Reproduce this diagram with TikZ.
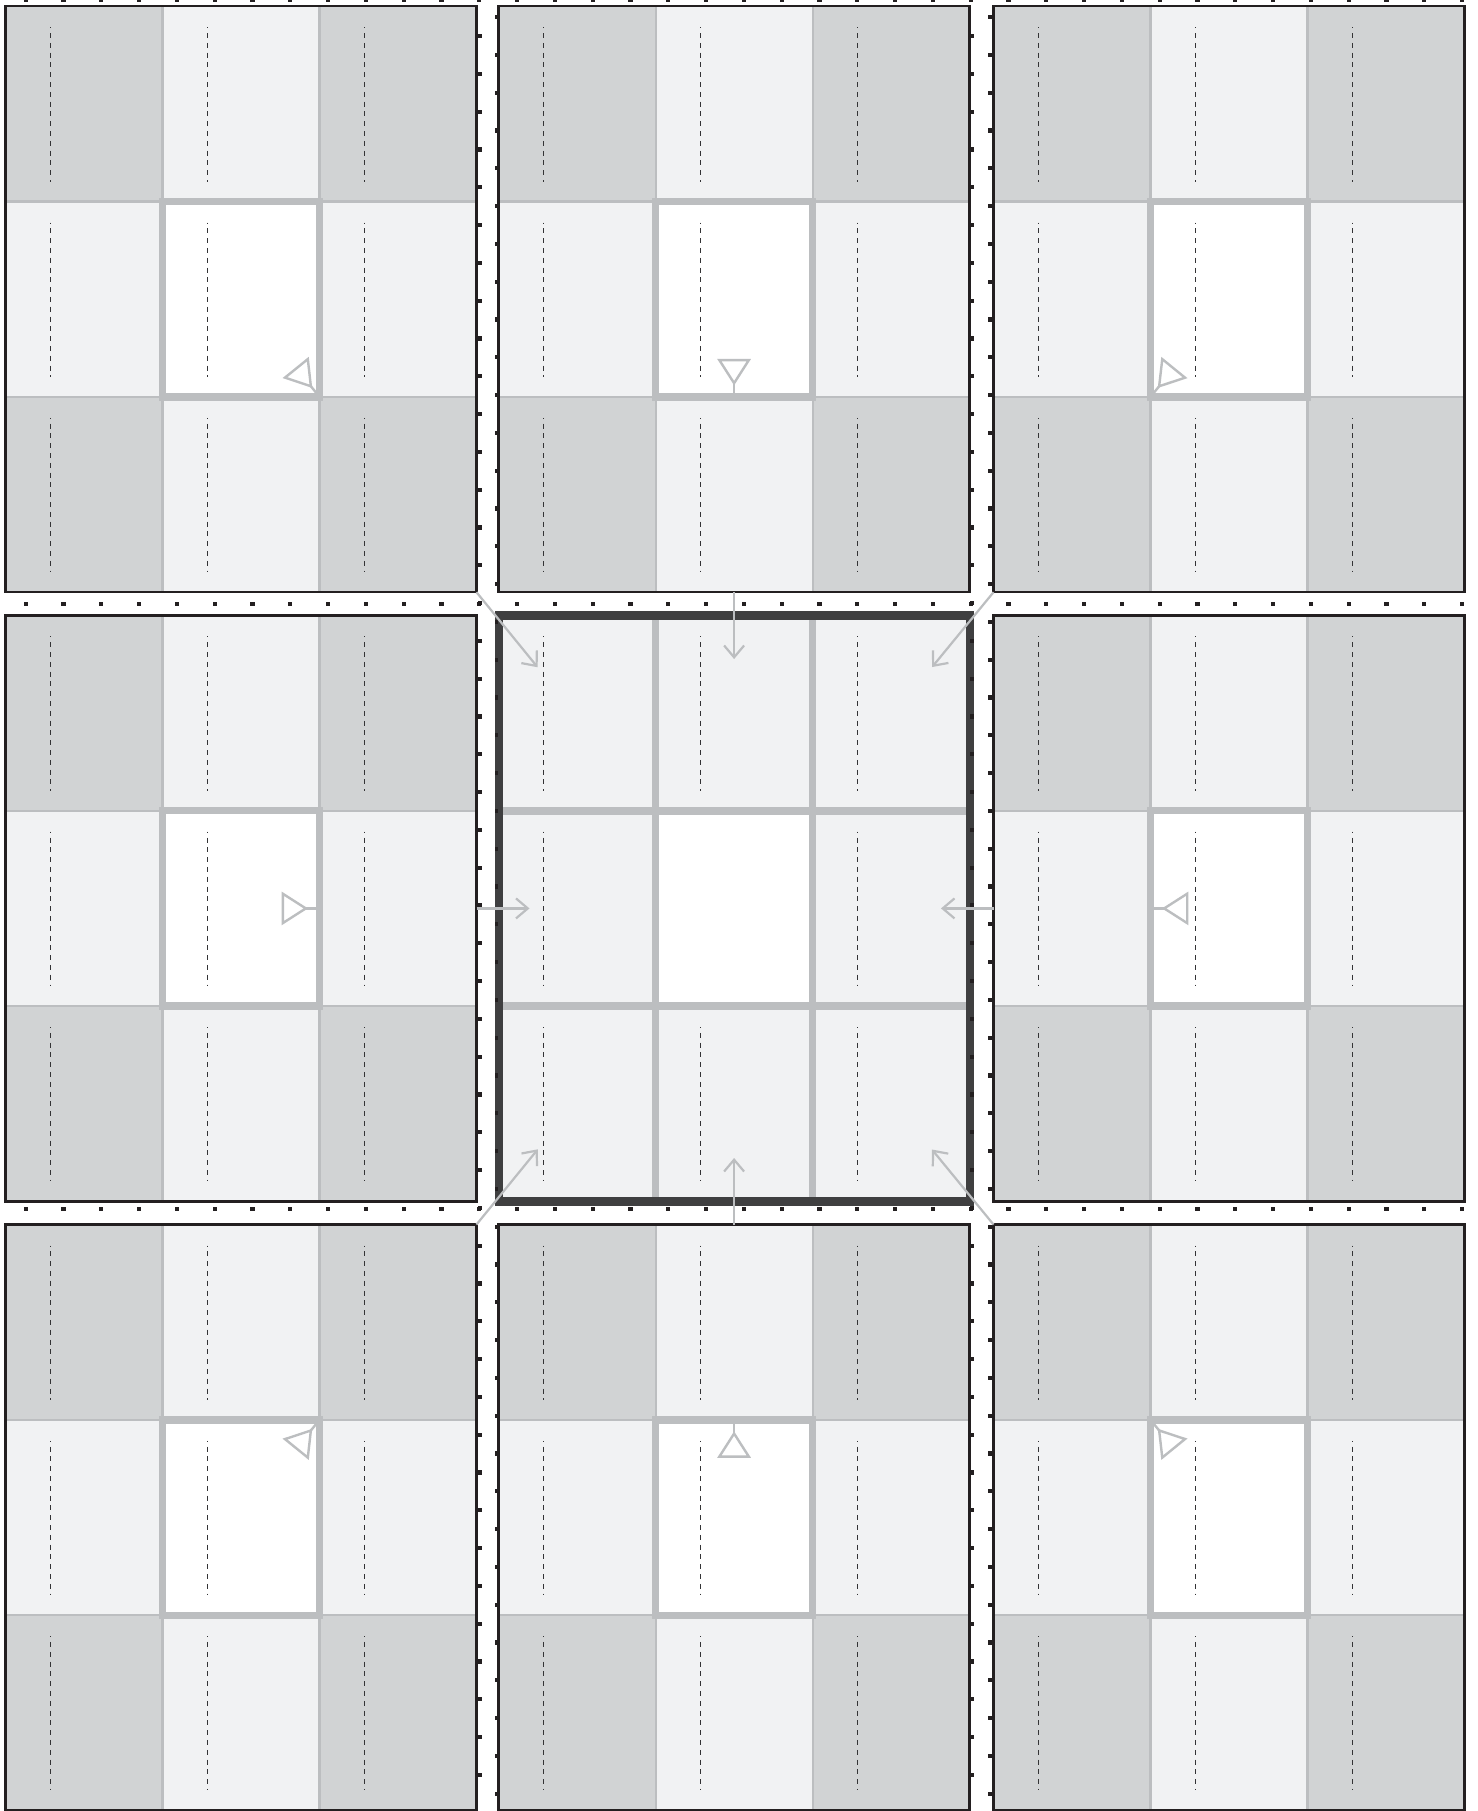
\documentclass[tikz,border=0pt]{standalone}
\usetikzlibrary{arrows.meta,calc}
\definecolor{cdark}{HTML}{D1D3D4}
\definecolor{clight}{HTML}{F1F2F3}
\definecolor{cline}{HTML}{BCBEC0}
\definecolor{cborder}{HTML}{231F20}
\definecolor{ccenter}{HTML}{3F3F40}
\definecolor{cdash}{HTML}{333335}
\tikzset{
  thinline/.style={draw=cline,line width=1.1pt},
  thickline/.style={draw=cline,line width=3.65pt},
  ctrinner/.style={draw=cline,line width=3.85pt},
  blockborder/.style={draw=cborder,line width=1.25pt},
  ctrborder/.style={draw=ccenter,line width=4.1pt},
  celldash/.style={draw=cdash,line width=0.85pt,dash pattern=on 2.5pt off 2.4pt,dash phase=2pt},
  marker/.style={draw=cline,line width=1.2pt,line join=miter},
  conn/.style={draw=cline,line width=1.1pt,-{Straight Barb[length=5.9pt,width=10pt]}},
  dotsq/.style={fill=cborder}
}
\newcommand\celldashes[1]{%
  \foreach \i/\j in {#1}{%
    \draw[celldash] ({157*\i+45},{195.333*\j+21}) -- ({157*\i+45},{195.333*\j+175.3});
  }}
\newcommand\outerblock[5]{% X, Y, dx, dy, name
  \begin{scope}[shift={(#1,#2)}]
    \fill[cdark] (0,0) rectangle (471,586);
    \fill[clight] (157,0) rectangle (314,586);
    \fill[clight] (0,195.333) rectangle (471,390.667);
    \fill[white] (157,195.333) rectangle (314,390.667);
    \draw[thinline] (157,0) -- (157,586);
    \draw[thinline] (314,0) -- (314,586);
    \draw[thinline] (0,195.333) -- (471,195.333);
    \draw[thinline] (0,390.667) -- (471,390.667);
    \celldashes{0/0,1/0,2/0,0/1,1/1,2/1,0/2,1/2,2/2}
    \draw[thickline] (157,195.333) rectangle (314,390.667);
    \draw[blockborder] (0,0) rectangle (471,586);
    \coordinate (#5-P) at ({235.5+78.5*(#3)},{293+97.667*(#4)});
    \coordinate (#5-Q) at ({235.5+235.5*(#3)},{293+293*(#4)});
  \end{scope}}
\newcommand\centerblock[2]{%
  \begin{scope}[shift={(#1,#2)}]
    \fill[clight] (0,0) rectangle (471,586);
    \fill[white] (157,195.333) rectangle (314,390.667);
    \celldashes{0/0,1/0,2/0,0/1,2/1,0/2,1/2,2/2}
    \draw[ctrinner] (157,0) -- (157,586);
    \draw[ctrinner] (314,0) -- (314,586);
    \draw[ctrinner] (0,195.333) -- (471,195.333);
    \draw[ctrinner] (0,390.667) -- (471,390.667);
    \draw[ctrborder] (0,0) rectangle (471,586);
    \coordinate (ctr) at (235.5,293);
  \end{scope}}
\begin{document}
\begin{tikzpicture}[x=0.5pt,y=-0.5pt]
\useasboundingbox (0,0) rectangle (1478,1811);
\fill[white] (0,0) rectangle (1478,1811);
% blocks
\outerblock{5.5}{6.2}{1}{1}{tl}
\outerblock{498.6}{6.2}{0}{1}{tm}
\outerblock{993.5}{6.2}{-1}{1}{tr}
\outerblock{5.5}{615.4}{1}{0}{ml}
\centerblock{498.6}{615.4}
\outerblock{993.5}{615.4}{-1}{0}{mr}
\outerblock{5.5}{1224.5}{1}{-1}{bl}
\outerblock{498.6}{1224.5}{0}{-1}{bm}
\outerblock{993.5}{1224.5}{-1}{-1}{br}
% dotted separators
\foreach \k in {0,...,38}{%
  \pgfmathsetmacro\xx{25.7+37.8*\k}
  \foreach \yy in {-0.5,603.8,1208.7}{%
    \fill[dotsq] ({\xx-2.1},{\yy-2.1}) rectangle ({\xx+2.1},{\yy+2.1});
  }}
\foreach \n in {-1,...,46}{%
  \pgfmathsetmacro\ya{36+37.8*\n}
  \foreach \xx in {479.7,972}{%
    \fill[dotsq] ({\xx-1.8},{\ya-2.1}) rectangle ({\xx+1.8},{\ya+2.1});
  }}
\foreach \n in {0,...,47}{%
  \pgfmathsetmacro\yb{17+37.8*\n}
  \foreach \xx in {496.6,990}{%
    \fill[dotsq] ({\xx-1.8},{\yb-2.1}) rectangle ({\xx+1.8},{\yb+2.1});
  }}
% markers
\foreach \nm in {tl,tm,tr,ml,mr,bl,bm,br}{%
  \coordinate (\nm-apex) at ($(\nm-P)!-6.85pt!(ctr)$);
  \coordinate (\nm-base) at ($(\nm-P)!-18.35pt!(ctr)$);
  \coordinate (\nm-b1) at ($(\nm-base)!7.35pt!90:(ctr)$);
  \coordinate (\nm-b2) at ($(\nm-base)!7.35pt!-90:(ctr)$);
  \draw[marker] (\nm-P) -- (\nm-apex);
  \draw[marker] (\nm-apex) -- (\nm-b1) -- (\nm-b2) -- cycle;
}
% connectors
\foreach \nm/\len in {tl/48.4pt,tm/33.4pt,tr/48.4pt,ml/26.5pt,mr/26.25pt,bl/48.5pt,bm/33.25pt,br/48.5pt}{%
  \draw[conn] (\nm-Q) -- ($(\nm-Q)!\len!(ctr)$);
}
\end{tikzpicture}
\end{document}
